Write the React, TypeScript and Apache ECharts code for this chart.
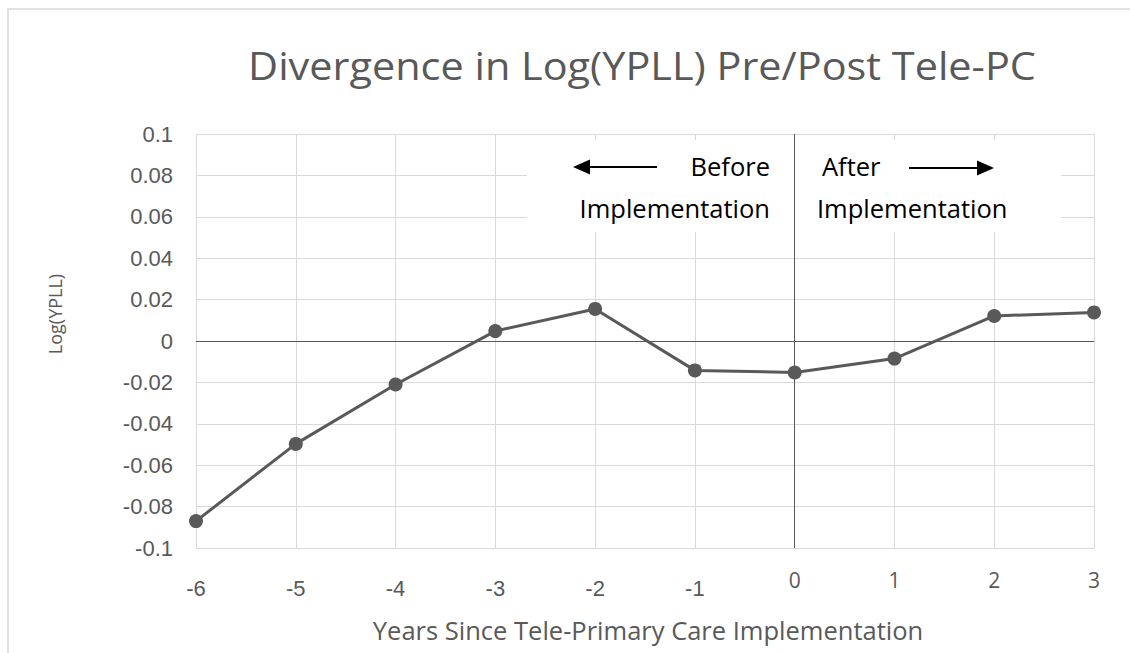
import React, { useEffect, useRef } from "react";
import * as echarts from "echarts";

const years = [-6, -5, -4, -3, -2, -1, 0, 1, 2, 3];
const logYpll = [-0.087, -0.0497, -0.021, 0.0048, 0.0155, -0.0142, -0.0152, -0.0085, 0.0121, 0.0138];
const yTicks = { min: -0.1, max: 0.1, step: 0.02 };
const xTicks = { min: -6, max: 3, step: 1 };
const titleText = "Divergence in Log(YPLL) Pre/Post Tele-PC";
const xTitle = "Years Since Tele-Primary Care Implementation";
const yTitle = "Log(YPLL)";
const beforeLines = ["Before", "Implementation"];
const afterLines = ["After", "Implementation"];

const GRAY = "#595959";
const GRID = "#d9d9d9";
const CAL = "Open Sans";
const ARIAL = "Liberation Sans";

function txt(x: number, y: number, text: string, size: number, fill: string, align: string, extra: any = {}) {
  return {
    type: "text",
    z: 5,
    x,
    y,
    ...extra,
    style: { text, fontSize: size, fontFamily: CAL, fill, textAlign: align, textVerticalAlign: "middle" },
  };
}

export default function App() {
  const ref = useRef<HTMLDivElement>(null);
  useEffect(() => {
    document.body.style.margin = "0";
    const chart = echarts.init(ref.current!, null, { renderer: "svg" });
    const data = years.map((x, i) => [x, logYpll[i]]);
    chart.setOption({
      animation: false,
      backgroundColor: "#ffffff",
      grid: { left: 196, top: 134, right: 36, bottom: 105 },
      xAxis: {
        type: "value",
        min: xTicks.min,
        max: xTicks.max,
        interval: xTicks.step,
        axisLine: { show: true, onZero: false, lineStyle: { color: GRID, width: 1 } },
        axisTick: { show: false },
        splitLine: { show: true, lineStyle: { color: GRID, width: 1 } },
        axisLabel: {
          margin: 21,
          formatter: (v: number) => (v < 0 ? `{a|${v}}` : `{b|${v}}`),
          rich: {
            a: { fontFamily: ARIAL, fontSize: 22, color: GRAY, padding: [8, 0, 0, 0] },
            b: { fontFamily: CAL, fontSize: 21, color: GRAY, padding: [0, 0, 8, 0] },
          },
        },
      },
      yAxis: {
        type: "value",
        min: yTicks.min,
        max: yTicks.max,
        interval: yTicks.step,
        axisLine: { show: false },
        axisTick: { show: false },
        splitLine: { show: true, lineStyle: { color: GRID, width: 1 } },
        axisLabel: {
          margin: 23,
          fontFamily: ARIAL,
          fontSize: 22,
          color: GRAY,
          formatter: (v: number) => String(parseFloat(v.toFixed(2))),
        },
      },
      graphic: [
        {
          type: "rect",
          z: 0,
          shape: { x: 8, y: 9, width: 1300, height: 800 },
          style: { fill: "none", stroke: GRID, lineWidth: 1.5 },
        },
        {
          type: "rect",
          z: 1,
          shape: { x: 527, y: 140, width: 534, height: 92 },
          style: { fill: "#ffffff" },
        },
        txt(642, 66, titleText, 38, GRAY, "center", { scaleX: 1.09, originX: 0, originY: 0 }),
        txt(648, 630, xTitle, 25.5, GRAY, "center"),
        txt(55, 314, yTitle, 18, GRAY, "center", { rotation: Math.PI / 2 }),
        txt(770, 166, beforeLines[0], 25.5, "#000000", "right"),
        txt(770, 208, beforeLines[1], 25.5, "#000000", "right"),
        txt(822, 166, afterLines[0], 25.5, "#000000", "left"),
        txt(817, 208, afterLines[1], 25.5, "#000000", "left"),
        {
          type: "line",
          z: 5,
          shape: { x1: 588, y1: 167, x2: 657, y2: 167 },
          style: { stroke: "#000000", lineWidth: 2 },
        },
        {
          type: "polygon",
          z: 5,
          shape: { points: [[573, 167], [590, 159.5], [590, 174.5]] },
          style: { fill: "#000000" },
        },
        {
          type: "line",
          z: 5,
          shape: { x1: 909, y1: 168, x2: 979, y2: 168 },
          style: { stroke: "#000000", lineWidth: 2 },
        },
        {
          type: "polygon",
          z: 5,
          shape: { points: [[994, 168], [977, 160.5], [977, 175.5]] },
          style: { fill: "#000000" },
        },
      ],
      series: [
        {
          type: "line",
          z: 2,
          data: [],
          markLine: {
            silent: true,
            symbol: ["none", "none"],
            label: { show: false },
            lineStyle: { color: GRAY, width: 1, type: "solid" },
            data: [{ xAxis: 0 }, { yAxis: 0 }],
          },
        },
        {
          type: "line",
          z: 3,
          data,
          symbol: "circle",
          symbolSize: 14,
          showSymbol: true,
          lineStyle: { color: GRAY, width: 3 },
          itemStyle: { color: GRAY },
        },
      ],
    });
    return () => chart.dispose();
  }, []);
  return <div ref={ref} style={{ width: 1130, height: 653 }} />;
}
